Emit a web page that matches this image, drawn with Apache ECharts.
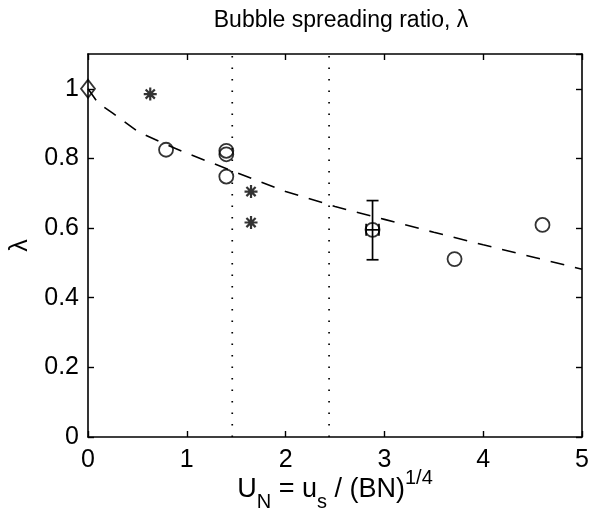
<!DOCTYPE html>
<html>
<head>
<meta charset="utf-8">
<script src="https://cdn.jsdelivr.net/npm/echarts@6/dist/echarts.min.js"></script>
<style>
  html, body { margin: 0; padding: 0; background: #fff; }
  #chart { width: 596px; height: 511px; }
</style>
</head>
<body>
<div id="chart"></div>
<script>
// Fitted spreading-ratio curve (dashed)
const fitX = [0, 0.1, 0.25, 0.5, 0.75, 1.0, 1.5, 2.0, 2.5, 3.0, 3.5, 4.0, 4.5, 5.0];
const fitY = [1.0, 0.96, 0.93, 0.878, 0.845, 0.815, 0.76, 0.705, 0.662, 0.625, 0.588, 0.552, 0.517, 0.482];

// Measured ratios: open circles
const circleX = [0.79, 1.40, 1.40, 1.40, 2.88, 3.71, 4.60];
const circleY = [0.825, 0.822, 0.812, 0.748, 0.595, 0.511, 0.609];

// Measured ratios: asterisks
const starX = [0.63, 1.65, 1.65];
const starY = [0.985, 0.705, 0.616];

// Reference point at U_N = 0
const diamondX = [0];
const diamondY = [1.0];

// Error bar on the averaged point: [x, y, xLow, xHigh, yLow, yHigh]
const errX = [2.88];
const errY = [0.595];
const errXLow = [2.815];
const errXHigh = [2.945];
const errYLow = [0.509];
const errYHigh = [0.679];

// Regime boundaries (dotted verticals)
const regimeBounds = [1.46, 2.44];

const xTicks = [0, 1, 2, 3, 4, 5];
const yTicks = [0, 0.2, 0.4, 0.6, 0.8, 1];

const FONT = '"Liberation Sans", Arial, Helvetica, sans-serif';
const zip = (a, b) => a.map((v, i) => [v, b[i]]);

const chart = echarts.init(document.getElementById('chart'), null, { renderer: 'canvas' });

const axisCommon = {
  axisLine: { show: true, onZero: false, lineStyle: { color: '#000', width: 1.6 } },
  axisTick: { show: true, inside: true, length: 6, lineStyle: { color: '#000', width: 1.4 } },
  splitLine: { show: false }
};

const starPath = 'path://M0,-10L0,10M-10,0L10,0M-7.07,-7.07L7.07,7.07M-7.07,7.07L7.07,-7.07';

const series = [
  {
    type: 'line',
    data: zip(fitX, fitY),
    showSymbol: false,
    silent: true,
    lineStyle: { color: '#000', width: 1.6, type: [14, 11] },
    z: 2
  },
  ...regimeBounds.map(b => ({
    type: 'line',
    data: [[b, 0], [b, 1.1]],
    showSymbol: false,
    silent: true,
    lineStyle: { color: '#000', width: 1.7, type: [1.5, 10] },
    z: 2
  })),
  {
    type: 'scatter',
    data: zip(circleX, circleY),
    symbol: 'circle',
    symbolSize: 14,
    itemStyle: { color: 'rgba(0,0,0,0)', borderColor: '#000', borderWidth: 1.8 },
    z: 3
  },
  {
    type: 'scatter',
    data: zip(starX, starY),
    symbol: starPath,
    symbolSize: 13,
    itemStyle: { color: 'rgba(0,0,0,0)', borderColor: '#000', borderWidth: 2.2 },
    z: 3
  },
  {
    type: 'scatter',
    data: zip(diamondX, diamondY),
    symbol: 'diamond',
    symbolSize: [14, 18],
    itemStyle: { color: 'rgba(0,0,0,0)', borderColor: '#000', borderWidth: 1.8 },
    z: 3
  },
  {
    type: 'custom',
    data: errX.map((x, i) => [x, errY[i], errXLow[i], errXHigh[i], errYLow[i], errYHigh[i]]),
    renderItem: function (params, api) {
      const x = api.value(0), y = api.value(1);
      const top = api.coord([x, api.value(5)]);
      const bot = api.coord([x, api.value(4)]);
      const left = api.coord([api.value(2), y]);
      const right = api.coord([api.value(3), y]);
      const cap = 6;
      const st = { stroke: '#000', lineWidth: 1.7 };
      const ln = (x1, y1, x2, y2) => ({ type: 'line', shape: { x1, y1, x2, y2 }, style: st });
      return {
        type: 'group',
        children: [
          ln(top[0], top[1], bot[0], bot[1]),
          ln(top[0] - cap, top[1], top[0] + cap, top[1]),
          ln(bot[0] - cap, bot[1], bot[0] + cap, bot[1]),
          ln(left[0], left[1], right[0], right[1]),
          ln(left[0], left[1] - cap, left[0], left[1] + cap),
          ln(right[0], right[1] - cap, right[0], right[1] + cap)
        ]
      };
    },
    z: 3
  }
];

chart.setOption({
  animation: false,
  backgroundColor: '#fff',
  textStyle: { fontFamily: FONT, color: '#000' },
  title: {
    text: 'Bubble spreading ratio, λ',
    left: 336,
    top: 4,
    textAlign: 'center',
    textStyle: { fontFamily: FONT, fontSize: 23, fontWeight: 'normal', color: '#000' }
  },
  grid: { left: 88, right: 14, top: 54, bottom: 74, containLabel: false, outerBoundsMode: 'none' },
  xAxis: [
    Object.assign({}, axisCommon, {
      type: 'value', position: 'bottom', min: xTicks[0], max: xTicks[xTicks.length - 1], interval: 1,
      axisLabel: { show: true, color: '#000', fontSize: 25, fontFamily: FONT, margin: 11 },
      name: '{u|U}{sub|N}{u| = u}{sub|s}{u| / (BN)}{sup|1/4}',
      nameLocation: 'middle',
      nameGap: 31,
      nameMoveOverlap: false,
      nameTextStyle: {
        color: '#000', fontFamily: FONT,
        rich: {
          u: { fontSize: 27, fontFamily: FONT, color: '#000' },
          sub: { fontSize: 20, fontFamily: FONT, color: '#000', padding: [24, 0, 0, 0] },
          sup: { fontSize: 20, fontFamily: FONT, color: '#000', padding: [0, 0, 24, 0] }
        }
      }
    }),
    Object.assign({}, axisCommon, {
      type: 'value', position: 'top', min: xTicks[0], max: xTicks[xTicks.length - 1], interval: 1,
      axisLabel: { show: false }
    })
  ],
  yAxis: [
    Object.assign({}, axisCommon, {
      type: 'value', position: 'left', min: 0, max: 1.1, interval: 0.2,
      axisLabel: {
        show: true, color: '#000', fontSize: 25, fontFamily: FONT, margin: 9,
        showMaxLabel: false,
        formatter: v => (yTicks.some(t => Math.abs(t - v) < 1e-9) ? String(Math.round(v * 10) / 10) : '')
      },
      name: 'λ',
      nameLocation: 'middle',
      nameGap: 55,
      nameMoveOverlap: false,
      nameRotate: 90,
      nameTextStyle: { color: '#000', fontFamily: FONT, fontSize: 25 }
    }),
    Object.assign({}, axisCommon, {
      type: 'value', position: 'right', min: 0, max: 1.1, interval: 0.2,
      axisLabel: { show: false }
    })
  ],
  series: series
});
</script>
</body>
</html>
